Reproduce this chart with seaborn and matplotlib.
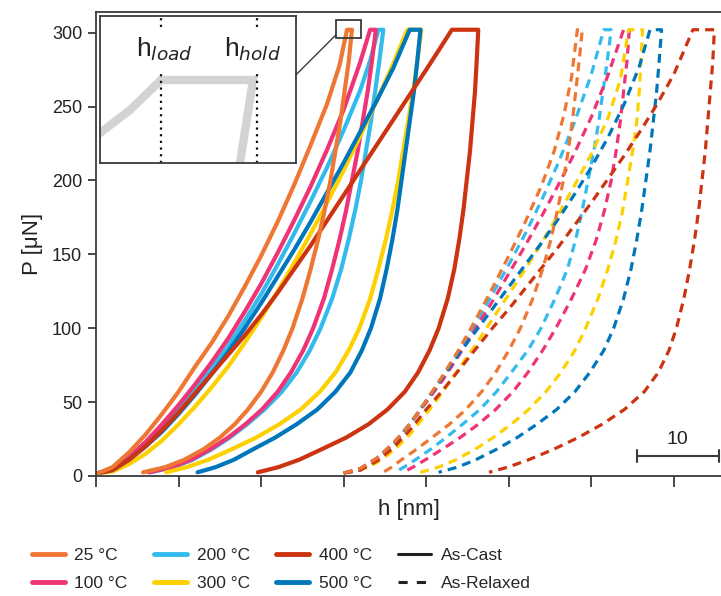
import numpy as np
import pandas as pd
import matplotlib
matplotlib.use("Agg")
import matplotlib.pyplot as plt
import seaborn as sns
from matplotlib.lines import Line2D
from matplotlib.patches import Rectangle, ConnectionPatch

# ---------------- data ----------------
temps = ["25 °C", "100 °C", "200 °C", "300 °C", "400 °C", "500 °C"]
colors = {"25 °C": "#EE7733", "100 °C": "#EE3377", "200 °C": "#33BBEE",
          "300 °C": "#FDD000", "400 °C": "#CC3311", "500 °C": "#0077BB"}

# unloading branches are sampled at these load levels (from the peak downward)
unl_P = [302, 280, 260, 240, 220, 200, 180, 160, 140, 120, 100, 85, 70, 57, 45, 35, 26, 18, 11, 6, 2.5]

# ---- As-Cast (solid) ----
cast_25_load_h = [0.3, 2, 4, 6, 8, 10, 12, 14, 16, 18, 20, 22, 24, 26, 28, 29.5, 30.4]
cast_25_load_P = [2, 6, 16, 28, 42, 57, 74, 90, 108, 128, 149, 172, 197, 224, 252, 278, 302]
cast_25_unl_h = [31.0, 30.6, 30.1, 29.6, 29.0, 28.4, 27.7, 26.9, 26.0, 25.0, 23.8, 22.7, 21.4, 20.0, 18.4, 16.8, 15.0, 13.0, 10.7, 8.4, 5.7]

cast_100_load_h = [0.3, 2, 4, 6, 8, 10, 12, 14, 16, 18, 20, 22, 24, 26, 28, 30, 32, 33.2]
cast_100_load_P = [2, 5, 13, 23, 35, 48, 62, 77, 93, 111, 130, 151, 173, 196, 221, 248, 280, 302]
cast_100_unl_h = [33.9, 33.4, 32.9, 32.3, 31.7, 31.0, 30.3, 29.5, 28.6, 27.6, 26.3, 25.1, 23.6, 22.0, 20.1, 18.1, 16.0, 13.8, 11.5, 9.2, 6.4]

cast_200_load_h = [0.3, 2, 4, 6, 8, 10, 12, 14, 16, 18, 20, 22, 24, 26, 28, 30, 32, 33.2, 34.2]
cast_200_load_P = [2, 5, 12, 22, 33, 46, 59, 73, 88, 105, 123, 143, 164, 186, 209, 234, 261, 281, 302]
cast_200_unl_h = [34.8, 34.3, 33.8, 33.3, 32.7, 32.1, 31.4, 30.6, 29.7, 28.6, 27.2, 25.9, 24.3, 22.5, 20.4, 18.3, 16.2, 14.0, 11.7, 9.4, 6.6]

cast_300_load_h = [0.3, 2, 4, 6, 8, 10, 12, 14, 16, 18, 20, 22, 24, 26, 28, 30, 32, 34, 36, 37.7]
cast_300_load_P = [2, 3, 8, 15, 24, 35, 47, 60, 74, 90, 107, 125, 144, 164, 185, 207, 230, 254, 279, 302]
cast_300_unl_h = [39.4, 38.9, 38.4, 37.8, 37.2, 36.6, 35.9, 35.1, 34.2, 33.2, 31.9, 30.6, 29.0, 27.1, 24.8, 22.2, 19.4, 16.4, 13.6, 11.0, 8.5]

cast_400_load_h = [0.3, 2, 4, 6, 8, 10, 12, 14, 16, 18, 20, 22, 24, 26, 28, 30, 32, 34, 36, 38, 40, 41.5, 43.1]
cast_400_load_P = [2, 4, 11, 20, 31, 43, 56, 69, 82, 95, 109, 124, 140, 156, 173, 190, 207, 224, 241, 258, 275, 288, 302]
cast_400_unl_h = [46.3, 46.1, 45.9, 45.6, 45.3, 44.9, 44.5, 44.0, 43.4, 42.6, 41.5, 40.4, 39.0, 37.4, 35.3, 33.0, 30.3, 27.3, 24.6, 22.1, 19.6]

cast_500_load_h = [0.3, 2, 4, 6, 8, 10, 12, 14, 16, 18, 20, 22, 24, 26, 28, 30, 32, 34, 36, 38.0]
cast_500_load_P = [2, 4, 11, 20, 30, 42, 55, 69, 84, 100, 117, 135, 153, 172, 192, 212, 233, 254, 276, 302]
cast_500_unl_h = [39.3, 38.9, 38.5, 38.0, 37.5, 37.0, 36.5, 35.9, 35.2, 34.4, 33.3, 32.2, 30.8, 29.0, 26.8, 24.3, 21.7, 19.0, 16.7, 14.5, 12.3]

# ---- As-Relaxed (dashed), plotted with a 30 nm offset as in the reference ----
rel_25_load_h = [30, 32, 34, 36, 38, 40, 42, 44, 46, 48, 50, 52, 54, 55.5, 56.7, 57.6, 58.3]
rel_25_load_P = [2, 5, 12, 22, 35, 51, 68, 86, 106, 127, 149, 172, 197, 220, 245, 270, 302]
rel_25_unl_h = [58.9, 58.5, 58.1, 57.7, 57.2, 56.6, 55.9, 55.1, 54.1, 52.9, 51.4, 50.0, 48.4, 46.7, 44.8, 42.8, 40.7, 38.8, 37.0, 35.8, 34.8]

rel_100_load_h = [30, 32, 34, 36, 38, 40, 42, 44, 46, 48, 50, 52, 54, 56, 58, 60, 62, 63.9]
rel_100_load_P = [2, 5, 12, 22, 35, 50, 65, 82, 100, 118, 137, 156, 176, 197, 219, 243, 271, 302]
rel_100_unl_h = [64.6, 64.3, 63.9, 63.5, 63.0, 62.4, 61.6, 60.6, 59.3, 57.6, 55.7, 54.1, 52.3, 50.5, 48.4, 46.3, 44.1, 41.9, 39.9, 38.4, 37.2]

rel_200_load_h = [30, 32, 34, 36, 38, 40, 42, 44, 46, 48, 50, 52, 54, 56, 58, 60, 61.5]
rel_200_load_P = [2, 5, 12, 22, 35, 50, 66, 84, 103, 123, 143, 164, 187, 212, 240, 272, 302]
rel_200_unl_h = [62.4, 61.9, 61.4, 60.9, 60.3, 59.6, 58.9, 58.1, 57.1, 55.6, 53.9, 52.3, 50.3, 48.5, 46.5, 44.4, 42.4, 40.5, 38.7, 37.3, 36.2]

rel_300_load_h = [30, 32, 34, 36, 38, 40, 42, 44, 46, 48, 50, 52, 54, 56, 58, 60, 62, 63.5, 64.5]
rel_300_load_P = [2, 4, 9, 17, 28, 42, 57, 73, 89, 106, 123, 140, 158, 177, 197, 218, 242, 268, 302]
rel_300_unl_h = [66.2, 66.0, 65.8, 65.5, 65.0, 64.4, 63.8, 63.0, 62.0, 60.8, 59.3, 58.0, 56.3, 54.5, 52.4, 50.3, 48.1, 45.9, 43.6, 41.5, 39.3]

rel_400_load_h = [30, 32, 34, 36, 38, 40, 42, 44, 46, 48, 50, 52, 54, 56, 58, 60, 62, 64, 66, 68, 70, 72.3]
rel_400_load_P = [2, 4, 10, 19, 31, 45, 58, 72, 86, 100, 113, 127, 141, 155, 170, 185, 201, 217, 234, 252, 272, 302]
rel_400_unl_h = [74.9, 74.7, 74.4, 74.1, 73.8, 73.4, 73.0, 72.5, 71.9, 71.2, 70.3, 69.4, 68.1, 66.4, 64.0, 61.3, 58.4, 55.4, 52.4, 49.9, 47.6]

rel_500_load_h = [30, 32, 34, 36, 38, 40, 42, 44, 46, 48, 50, 52, 54, 56, 58, 60, 62, 64, 65.8, 67.1]
rel_500_load_P = [2, 4, 11, 21, 35, 51, 67, 83, 98, 113, 128, 143, 158, 174, 191, 209, 229, 252, 277, 302]
rel_500_unl_h = [68.5, 68.2, 67.9, 67.5, 67.1, 66.6, 66.1, 65.5, 64.8, 63.9, 62.7, 61.5, 59.8, 58.0, 55.8, 53.4, 51.0, 48.5, 46.0, 43.8, 41.5]

# inset schematic (top of a curve: loading, hold, unloading)
inset_h = [0, 30, 61, 153, 140]
inset_P = [30, 53, 83, 83, 0]
inset_marks_h = [61, 157]
inset_marks_txt = [r"$\mathregular{h}_{\mathit{load}}$", r"$\mathregular{h}_{\mathit{hold}}$"]
zoom_box_h = [29.06, 32.08]
zoom_box_P = [296.6, 308.8]

scalebar_h = [65.5, 75.4]
scalebar_P = 13.5
scalebar_txt = "10"

y_ticks = [0, 50, 100, 150, 200, 250, 300]
x_ticks = [0, 10, 20, 30, 40, 50, 60, 70]

curves = {
    ("As-Cast", "25 °C"): (cast_25_load_h, cast_25_load_P, cast_25_unl_h),
    ("As-Cast", "100 °C"): (cast_100_load_h, cast_100_load_P, cast_100_unl_h),
    ("As-Cast", "200 °C"): (cast_200_load_h, cast_200_load_P, cast_200_unl_h),
    ("As-Cast", "300 °C"): (cast_300_load_h, cast_300_load_P, cast_300_unl_h),
    ("As-Cast", "400 °C"): (cast_400_load_h, cast_400_load_P, cast_400_unl_h),
    ("As-Cast", "500 °C"): (cast_500_load_h, cast_500_load_P, cast_500_unl_h),
    ("As-Relaxed", "25 °C"): (rel_25_load_h, rel_25_load_P, rel_25_unl_h),
    ("As-Relaxed", "100 °C"): (rel_100_load_h, rel_100_load_P, rel_100_unl_h),
    ("As-Relaxed", "200 °C"): (rel_200_load_h, rel_200_load_P, rel_200_unl_h),
    ("As-Relaxed", "300 °C"): (rel_300_load_h, rel_300_load_P, rel_300_unl_h),
    ("As-Relaxed", "400 °C"): (rel_400_load_h, rel_400_load_P, rel_400_unl_h),
    ("As-Relaxed", "500 °C"): (rel_500_load_h, rel_500_load_P, rel_500_unl_h),
}

# ---------------- style ----------------
sns.set_style("ticks")
plt.rcParams["font.family"] = ["Liberation Sans", "DejaVu Sans"]
plt.rcParams["mathtext.fontset"] = "dejavusans"
spine_c = "#3a3a3a"
txt_c = "#222222"

fig = plt.figure(figsize=(7.21, 5.96), dpi=100)
ax = fig.add_axes([96 / 721, 1 - 476 / 596, 625 / 721, 464 / 596])

draw_order = ["200 °C", "100 °C", "300 °C", "500 °C", "400 °C", "25 °C"]
for cond in ["As-Relaxed", "As-Cast"]:
    for t in draw_order:
        lh, lp, uh = curves[(cond, t)]
        df = pd.DataFrame({"h": list(lh) + list(uh), "P": list(lp) + list(unl_P)})
        if cond == "As-Cast":
            sns.lineplot(data=df, x="h", y="P", sort=False, estimator=None, ax=ax,
                         color=colors[t], lw=3.0, solid_joinstyle="round",
                         solid_capstyle="round")
        else:
            sns.lineplot(data=df, x="h", y="P", sort=False, estimator=None, ax=ax,
                         color=colors[t], lw=2.3, linestyle=(0, (2.8, 1.9)),
                         dash_capstyle="butt", dash_joinstyle="round")

ax.set_xlim(0, 75.7)
ax.set_ylim(0, 314)
ax.set_yticks(y_ticks)
ax.set_xticks(x_ticks)
ax.set_xticklabels([])
ax.tick_params(axis="y", length=6, width=1.3, color=spine_c, labelsize=13, pad=4, labelcolor=txt_c)
ax.tick_params(axis="x", length=8, width=1.3, color=spine_c)
for s in ["left", "bottom", "top"]:
    ax.spines[s].set_color(spine_c)
    ax.spines[s].set_linewidth(1.3)
ax.spines["right"].set_visible(False)
ax.set_xlabel("h [nm]", fontsize=16, color=txt_c)
ax.set_ylabel("P [μN]", fontsize=16, color=txt_c)
ax.xaxis.set_label_coords(0.5, -0.05)
ax.yaxis.set_label_coords(-0.085, 0.5)

# zoom box
ax.add_patch(Rectangle((zoom_box_h[0], zoom_box_P[0]), zoom_box_h[1] - zoom_box_h[0],
                       zoom_box_P[1] - zoom_box_P[0], fill=False, ec=spine_c, lw=1.3,
                       clip_on=False, zorder=5))

# scale bar
ax.plot(scalebar_h, [scalebar_P, scalebar_P], color=spine_c, lw=1.5)
for xb in scalebar_h:
    ax.plot([xb, xb], [scalebar_P - 4, scalebar_P + 4], color=spine_c, lw=1.5)
ax.text(np.mean(scalebar_h), scalebar_P + 5.5, scalebar_txt, ha="center", va="bottom",
        fontsize=14, color=txt_c)

# inset
axi = fig.add_axes([100 / 721, 1 - 163 / 596, 196 / 721, 147 / 596])
axi.plot(inset_h, inset_P, color="#d3d3d3", lw=6, solid_joinstyle="miter")
axi.set_xlim(0, 196)
axi.set_ylim(0, 147)
for xm, txt in zip(inset_marks_h, inset_marks_txt):
    axi.vlines(xm, 0, 93, color="#111111", lw=1.6, linestyles=(0, (1, 2)))
    axi.vlines(xm, 136, 147, color="#111111", lw=1.6, linestyles=(0, (1, 2)))
    axi.text(xm + 3 if xm < 100 else xm - 5, 114, txt, ha="center", va="center",
             fontsize=19, color=txt_c)
axi.set_xticks([])
axi.set_yticks([])
for s in axi.spines.values():
    s.set_color(spine_c)
    s.set_linewidth(1.3)

con = ConnectionPatch(xyA=(1.0, 0.6), coordsA=axi.transAxes,
                      xyB=(zoom_box_h[0], 298.5), coordsB=ax.transData,
                      color=spine_c, lw=1.0)
fig.add_artist(con)

# legend
handles = [Line2D([0], [0], color=colors[t], lw=3.5) for t in temps]
handles.append(Line2D([0], [0], color=txt_c, lw=2.2))
handles.append(Line2D([0], [0], color=txt_c, lw=2.2, linestyle=(0, (3, 3))))
labels = temps + ["As-Cast", "As-Relaxed"]
fig.legend(handles, labels, ncol=4, loc="center", bbox_to_anchor=(0.39, 0.045),
           frameon=False, fontsize=12.5, handlelength=1.9, handletextpad=0.57,
           columnspacing=1.5, labelspacing=0.75, borderaxespad=0, borderpad=0)

fig.savefig("out.png", dpi=100)
